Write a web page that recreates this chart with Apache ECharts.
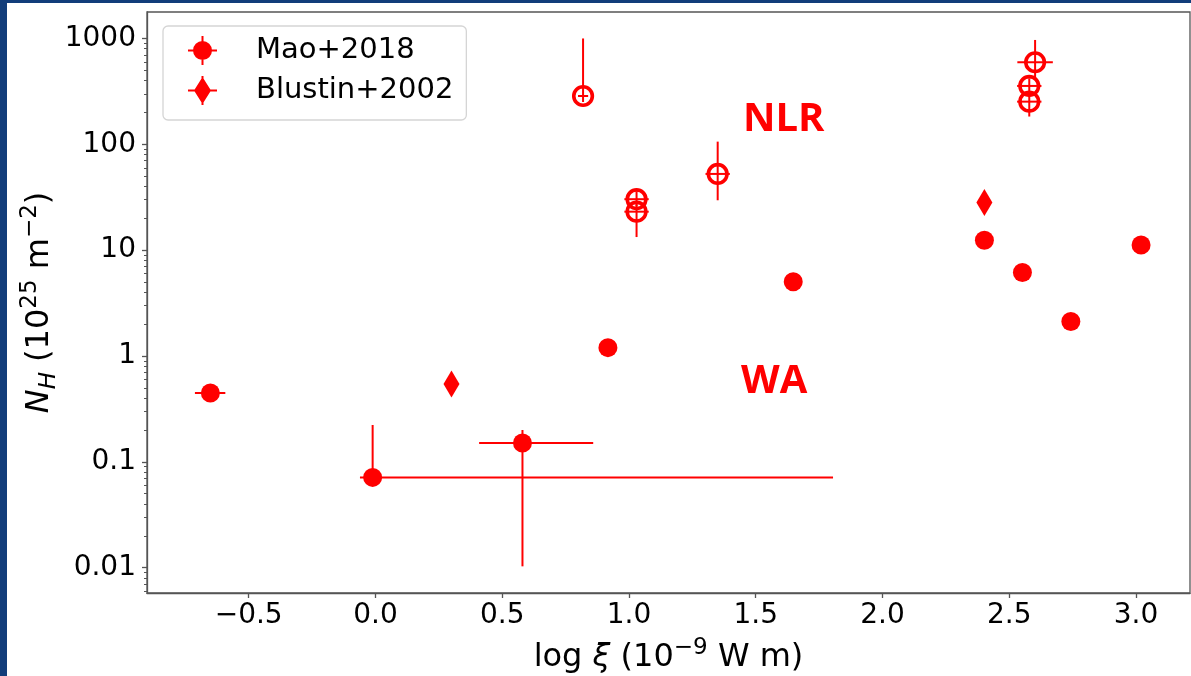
<!DOCTYPE html>
<html>
<head>
<meta charset="utf-8">
<script src="https://cdn.jsdelivr.net/npm/echarts@6/dist/echarts.min.js"></script>
<style>
  html, body { margin: 0; padding: 0; background: #fff; }
  #chart { width: 1191px; height: 676px; }
</style>
</head>
<body>
<div id="chart"></div>
<script>
// Mao+2018, filled circles (WA)
const maoXi     = [-0.651, -0.011, 0.580, 0.917, 1.648, 2.402, 2.552, 2.743, 3.020];
const maoNH     = [0.447, 0.0713, 0.151, 1.20, 5.02, 12.4, 6.14, 2.12, 11.2];
const maoXiLo   = [-0.712, -0.061, 0.409, null, null, null, null, null, null];
const maoXiHi   = [-0.592, 1.805, 0.859, null, null, null, null, null, null];
const maoNHLo   = [null, 0.0713, 0.0103, null, null, null, null, null, null];
const maoNHHi   = [null, 0.223, 0.200, null, null, null, null, null, null];

// Mao+2018, open circles (NLR)
const nlrXi   = [0.819, 1.030, 1.030, 1.350, 2.602, 2.579, 2.579];
const nlrNH   = [286, 30.3, 23.1, 52.5, 596, 356, 253];
const nlrXiLo = [0.799, 0.982, 0.982, 1.302, 2.532, 2.531, 2.531];
const nlrXiHi = [0.839, 1.078, 1.078, 1.398, 2.672, 2.627, 2.627];
const nlrNHLo = [251, 26, 13.3, 29.6, 420, 300, 183];
const nlrNHHi = [1000, 36, 27, 106, 968, 420, 300];

// Blustin+2002, diamonds
const blustinXi = [0.300, 2.402];
const blustinNH = [0.543, 28.2];

// axis ticks
const xTickValues = [-0.5, 0, 0.5, 1, 1.5, 2, 2.5, 3];
const xTickLabels = ['\u22120.5', '0.0', '0.5', '1.0', '1.5', '2.0', '2.5', '3.0'];
const yTickValues = [0.01, 0.1, 1, 10, 100, 1000];
const yTickLabels = ['0.01', '0.1', '1', '10', '100', '1000'];

const RED = '#ff0000';
const FONT = 'DejaVu Sans';

// minor ticks of the log axis (2..9 in each decade)
const yMinor = [];
for (let d = -3; d <= 3; d++) {
  for (let k = 2; k <= 9; k++) yMinor.push(Math.log10(k * Math.pow(10, d)));
}

function errRender(xs, ys, xlo, xhi, ylo, yhi, kind) {
  return function (params, api) {
    const i = params.dataIndex;
    const ly = Math.log10(ys[i]);
    const c = api.coord([xs[i], ly]);
    const line = { stroke: RED, lineWidth: 2 };
    const kids = [];
    if (xlo && xlo[i] != null) {
      const a = api.coord([xlo[i], ly]), b = api.coord([xhi[i], ly]);
      kids.push({ type: 'line', shape: { x1: a[0], y1: a[1], x2: b[0], y2: b[1] }, style: line });
    }
    if (ylo && ylo[i] != null) {
      const a = api.coord([xs[i], Math.log10(ylo[i])]), b = api.coord([xs[i], Math.log10(yhi[i])]);
      kids.push({ type: 'line', shape: { x1: a[0], y1: a[1], x2: b[0], y2: b[1] }, style: line });
    }
    if (kind === 'filled') {
      kids.push({ type: 'circle', shape: { cx: c[0], cy: c[1], r: 9.5 }, style: { fill: RED } });
    } else if (kind === 'open') {
      kids.push({ type: 'circle', shape: { cx: c[0], cy: c[1], r: 9.3 }, style: { fill: 'none', stroke: RED, lineWidth: 3.6 } });
    } else {
      kids.push({ type: 'polygon', shape: { points: [[c[0], c[1] - 13.5], [c[0] + 8, c[1]], [c[0], c[1] + 13.5], [c[0] - 8, c[1]]] }, style: { fill: RED } });
    }
    return { type: 'group', children: kids };
  };
}

const circleIcon = 'path://M0,13.5L29,13.5L29,15.5L0,15.5Z M13.5,0L15.5,0L15.5,29L13.5,29Z M24,14.5A9.5,9.5 0 1 1 5,14.5A9.5,9.5 0 1 1 24,14.5Z';
const diamondIcon = 'path://M0,13.5L29,13.5L29,15.5L0,15.5Z M13.5,0L15.5,0L15.5,29L13.5,29Z M14.5,1L23,14.5L14.5,28L6,14.5Z';

const richName = {
  i: { fontFamily: FONT, fontSize: 32, fontStyle: 'italic', color: '#000', lineHeight: 42 },
  sub: { fontFamily: FONT, fontSize: 23, fontStyle: 'italic', color: '#000', lineHeight: 24, verticalAlign: 'bottom' },
  sup: { fontFamily: FONT, fontSize: 23, color: '#000', lineHeight: 24, verticalAlign: 'top' }
};

const chart = echarts.init(document.getElementById('chart'));
chart.setOption({
  backgroundColor: '#fff',
  animation: false,
  grid: {
    left: 147, right: 1, top: 12, bottom: 83, outerBoundsMode: 'none', containLabel: false,
    show: true, borderColor: '#555', borderWidth: 1.3, backgroundColor: '#fff'
  },
  graphic: [
    { type: 'rect', left: 0, top: 0, shape: { width: 7, height: 676 }, style: { fill: '#123d7a' } },
    { type: 'rect', left: 0, top: 0, shape: { width: 1191, height: 3 }, style: { fill: '#123d7a' } },
    { type: 'text', left: 743, top: 100, z: 10, style: { text: 'NLR', fill: RED, font: 'bold 40px "Open Sans"' } },
    { type: 'text', left: 741, top: 362, z: 10, style: { text: 'WA', fill: RED, font: 'bold 40px "Open Sans"' } }
  ],
  legend: {
    left: 163, top: 26, orient: 'vertical',
    padding: [10, 13, 15, 25],
    itemWidth: 29, itemHeight: 29, itemGap: 11,
    backgroundColor: '#fff', borderColor: '#d5d5d5', borderWidth: 1.3, borderRadius: 5,
    textStyle: { fontFamily: FONT, fontSize: 29, color: '#000', lineHeight: 29, padding: [0, 0, 0, 34] },
    data: [{ name: 'Mao+2018', icon: circleIcon }, { name: 'Blustin+2002', icon: diamondIcon }]
  },
  xAxis: {
    type: 'value', min: -0.901, max: 3.213,
    name: 'log {i|\u03be} (10{sup|\u22129} W m)', nameLocation: 'middle', nameGap: 44, nameMoveOverlap: false,
    nameTextStyle: { fontFamily: FONT, fontSize: 32, color: '#000', lineHeight: 42, rich: richName },
    splitLine: { show: false },
    axisLine: { onZero: false, lineStyle: { color: '#555', width: 1.3 } },
    axisTick: { length: 5, lineStyle: { color: '#555', width: 1.3 }, customValues: xTickValues },
    axisLabel: {
      customValues: xTickValues, margin: 9, fontFamily: FONT, fontSize: 28, color: '#000',
      formatter: function (v) { return xTickLabels[xTickValues.indexOf(v)]; }
    }
  },
  yAxis: [{
    type: 'value', min: -2.239, max: 3.25,
    name: '{i|N}{sub|H} (10{sup|25} m{sup|\u22122})', nameLocation: 'middle', nameGap: 86, nameRotate: 90, nameMoveOverlap: false,
    nameTextStyle: { fontFamily: FONT, fontSize: 32, color: '#000', lineHeight: 42, rich: richName },
    splitLine: { show: false },
    axisLine: { show: true, onZero: false, lineStyle: { color: '#555', width: 1.3 } },
    axisTick: { length: 5, lineStyle: { color: '#555', width: 1.3 }, customValues: yTickValues.map(Math.log10) },
    axisLabel: {
      customValues: yTickValues.map(Math.log10), margin: 11, fontFamily: FONT, fontSize: 28, color: '#000',
      formatter: function (v) { return yTickLabels[Math.round(v) + 2]; }
    }
  }, {
    type: 'value', min: -2.239, max: 3.25, position: 'left',
    splitLine: { show: false }, axisLine: { show: false, onZero: false }, axisLabel: { show: false },
    axisTick: { show: true, length: 3, lineStyle: { color: '#555', width: 1 }, customValues: yMinor }
  }],
  series: [{
    name: 'Mao+2018', type: 'custom', itemStyle: { color: RED }, z: 3,
    renderItem: errRender(maoXi, maoNH, maoXiLo, maoXiHi, maoNHLo, maoNHHi, 'filled'),
    data: maoXi.map(function (x, i) { return [x, Math.log10(maoNH[i])]; })
  }, {
    name: 'Mao+2018 NLR', type: 'custom', itemStyle: { color: RED }, z: 3,
    renderItem: errRender(nlrXi, nlrNH, nlrXiLo, nlrXiHi, nlrNHLo, nlrNHHi, 'open'),
    data: nlrXi.map(function (x, i) { return [x, Math.log10(nlrNH[i])]; })
  }, {
    name: 'Blustin+2002', type: 'custom', itemStyle: { color: RED }, z: 3,
    renderItem: errRender(blustinXi, blustinNH, null, null, null, null, 'diamond'),
    data: blustinXi.map(function (x, i) { return [x, Math.log10(blustinNH[i])]; })
  }]
});
</script>
</body>
</html>
